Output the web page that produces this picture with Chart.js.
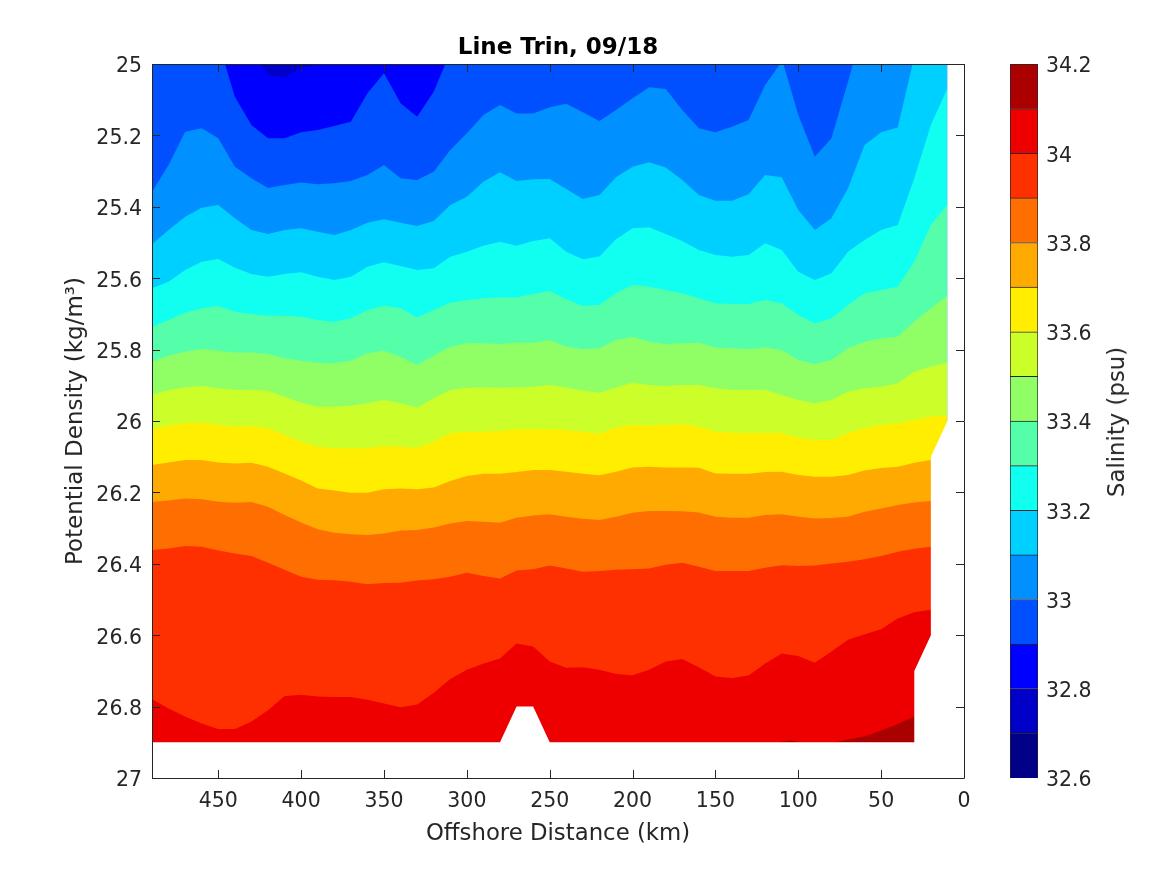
<!DOCTYPE html>
<html>
<head>
<meta charset="utf-8">
<title>Line Trin, 09/18</title>
<script src="https://cdn.jsdelivr.net/npm/chart.js@4"></script>
<style>
  html, body { margin: 0; padding: 0; background: #fff; }
  canvas { position: absolute; left: 0; top: 0; }
  #barLabel {
    position: absolute; left: 1116px; top: 422px; white-space: nowrap;
    transform: translate(-50%, -50%) rotate(-90deg);
    font: 22.8px "DejaVu Sans"; color: #262626;
  }
</style>
</head>
<body>
<canvas id="contourChart" width="1167" height="875"></canvas>
<canvas id="barChart" width="1167" height="875"></canvas>
<div id="barLabel">Salinity (psu)</div>
<script>
// Axis ticks
const distanceTicks = [450, 400, 350, 300, 250, 200, 150, 100, 50, 0];
const densityTicks = [25, 25.2, 25.4, 25.6, 25.8, 26, 26.2, 26.4, 26.6, 26.8, 27];
const salinityTicks = [32.6, 32.8, 33, 33.2, 33.4, 33.6, 33.8, 34, 34.2];

// Colour bands, one for each 0.1 psu
const salinityEdges = [32.6, 32.7, 32.8, 32.9, 33, 33.1, 33.2, 33.3, 33.4, 33.5, 33.6, 33.7, 33.8, 33.9, 34, 34.1, 34.2];
const bandColors = ['#000088', '#0000c8', '#0000ff', '#0050ff', '#0090ff', '#00d0ff', '#10fff0', '#55ffaa',
  '#90ff66', '#ccff2a', '#ffee00', '#ffaa00', '#ff6e00', '#ff3000', '#ee0000', '#aa0000'];

// Station distances (km)
const stations = [490, 480, 470, 460, 450, 440, 430, 420, 410, 400, 390, 380, 370, 360, 350, 340, 330, 320, 310, 300,
  290, 280, 270, 260, 250, 240, 230, 220, 210, 200, 190, 180, 170, 160, 150, 140, 130, 120, 110, 100,
  90, 80, 70, 60, 50, 40, 30, 20, 10];

// Density where salinity crosses each level. The upper ones only reach into the top of the plot here and there.
const s327X = [490, 10];
const s327Y = [25, 25];
const s328X = [490, 424, 420, 410, 400, 385, 10];
const s328Y = [25, 25, 25.031, 25.038, 25.01, 25, 25];
const s329X = [490, 446, 440, 430, 420, 410, 400, 390, 380, 370, 360, 350, 340, 330, 320, 313, 10];
const s329Y = [25, 25, 25.092, 25.171, 25.208, 25.208, 25.191, 25.185, 25.174, 25.162, 25.082, 25.026, 25.11, 25.148, 25.078, 25, 25];
const s330X = [490, 480, 470, 460, 450, 440, 430, 420, 410, 400, 390, 380, 370, 360, 350, 340, 330, 320, 310, 300,
  290, 280, 270, 260, 250, 240, 230, 220, 210, 200, 190, 180, 170, 160, 150, 140, 130, 120, 111, 109, 100, 90, 80, 70, 67, 10];
const s330Y = [25.358, 25.283, 25.19, 25.18, 25.208, 25.288, 25.32, 25.347, 25.339, 25.332, 25.337, 25.334, 25.328, 25.311, 25.283, 25.32, 25.325, 25.302, 25.241, 25.194,
  25.143, 25.115, 25.139, 25.139, 25.121, 25.111, 25.135, 25.16, 25.129, 25.096, 25.065, 25.07, 25.129, 25.18, 25.191, 25.176, 25.157, 25.059, 25, 25, 25.143, 25.26, 25.208, 25.05, 25, 25];
const s331X = [490, 480, 470, 460, 450, 440, 430, 420, 410, 400, 390, 380, 370, 360, 350, 340, 330, 320, 310, 300,
  290, 280, 270, 260, 250, 240, 230, 220, 210, 200, 190, 180, 170, 160, 150, 140, 130, 120, 110, 100, 90, 80, 70, 60, 50, 40, 31, 10];
const s331Y = [25.505, 25.465, 25.428, 25.403, 25.395, 25.432, 25.465, 25.476, 25.465, 25.46, 25.47, 25.479, 25.465, 25.445, 25.435, 25.445, 25.454, 25.44, 25.395, 25.372,
  25.33, 25.303, 25.328, 25.323, 25.322, 25.35, 25.378, 25.367, 25.317, 25.288, 25.275, 25.29, 25.325, 25.367, 25.383, 25.383, 25.365, 25.311, 25.317, 25.409, 25.465, 25.432, 25.348, 25.227, 25.191, 25.178, 25, 25];
const s332Y = [25.628, 25.61, 25.577, 25.554, 25.546, 25.571, 25.588, 25.596, 25.588, 25.583, 25.596, 25.605, 25.596, 25.568, 25.555, 25.566, 25.577, 25.572, 25.54, 25.526,
  25.509, 25.498, 25.509, 25.496, 25.488, 25.526, 25.547, 25.539, 25.491, 25.46, 25.457, 25.476, 25.496, 25.521, 25.535, 25.54, 25.535, 25.502, 25.521, 25.582,
  25.605, 25.586, 25.526, 25.493, 25.465, 25.451, 25.32, 25.171, 25.068];
const s333Y = [25.736, 25.717, 25.697, 25.684, 25.678, 25.694, 25.7, 25.705, 25.705, 25.708, 25.717, 25.723, 25.712, 25.689, 25.677, 25.684, 25.71, 25.689, 25.669, 25.661,
  25.656, 25.654, 25.654, 25.644, 25.636, 25.659, 25.678, 25.675, 25.642, 25.619, 25.624, 25.633, 25.642, 25.656, 25.67, 25.672, 25.672, 25.661, 25.67, 25.703,
  25.726, 25.712, 25.675, 25.642, 25.633, 25.624, 25.554, 25.451, 25.395];
const s334Y = [25.834, 25.817, 25.806, 25.798, 25.803, 25.808, 25.808, 25.812, 25.824, 25.831, 25.837, 25.838, 25.831, 25.81, 25.803, 25.82, 25.843, 25.817, 25.792, 25.782,
  25.782, 25.784, 25.781, 25.781, 25.773, 25.792, 25.799, 25.796, 25.773, 25.765, 25.778, 25.784, 25.782, 25.781, 25.794, 25.796, 25.799, 25.794, 25.801, 25.829,
  25.84, 25.829, 25.796, 25.778, 25.769, 25.764, 25.722, 25.684, 25.65];
const s335Y = [25.927, 25.913, 25.906, 25.902, 25.908, 25.913, 25.913, 25.915, 25.932, 25.949, 25.96, 25.96, 25.957, 25.95, 25.941, 25.95, 25.962, 25.936, 25.913, 25.907,
  25.906, 25.907, 25.906, 25.904, 25.899, 25.906, 25.915, 25.921, 25.906, 25.893, 25.899, 25.902, 25.899, 25.899, 25.908, 25.913, 25.913, 25.913, 25.927, 25.941,
  25.95, 25.941, 25.918, 25.908, 25.904, 25.894, 25.862, 25.848, 25.837];
const s336Y = [26.022, 26.013, 26.006, 26.005, 26.011, 26.016, 26.014, 26.02, 26.039, 26.058, 26.072, 26.076, 26.076, 26.076, 26.07, 26.072, 26.075, 26.058, 26.034, 26.03,
  26.03, 26.027, 26.023, 26.023, 26.023, 26.025, 26.03, 26.036, 26.018, 26.011, 26.014, 26.011, 26.009, 26.016, 26.03, 26.033, 26.034, 26.033, 26.034, 26.047,
  26.053, 26.053, 26.034, 26.02, 26.011, 26.006, 25.997, 25.988, 25.985];
const s337Y = [26.123, 26.116, 26.109, 26.109, 26.116, 26.119, 26.117, 26.128, 26.147, 26.167, 26.189, 26.195, 26.201, 26.201, 26.191, 26.189, 26.191, 26.186, 26.168, 26.154,
  26.148, 26.148, 26.143, 26.137, 26.137, 26.142, 26.148, 26.152, 26.142, 26.13, 26.128, 26.13, 26.13, 26.131, 26.147, 26.148, 26.148, 26.143, 26.142, 26.151,
  26.156, 26.156, 26.151, 26.139, 26.132, 26.128, 26.117, 26.109, 26.101];
const s338Y = [26.227, 26.223, 26.217, 26.219, 26.226, 26.229, 26.227, 26.24, 26.263, 26.284, 26.303, 26.313, 26.317, 26.319, 26.315, 26.307, 26.305, 26.298, 26.287, 26.28,
  26.282, 26.285, 26.271, 26.265, 26.261, 26.268, 26.274, 26.277, 26.268, 26.257, 26.252, 26.252, 26.253, 26.256, 26.268, 26.271, 26.271, 26.263, 26.261, 26.268,
  26.273, 26.272, 26.268, 26.254, 26.245, 26.235, 26.228, 26.224, 26.218];
const s339Y = [26.361, 26.357, 26.35, 26.352, 26.363, 26.371, 26.378, 26.397, 26.417, 26.436, 26.445, 26.446, 26.45, 26.457, 26.454, 26.453, 26.447, 26.443, 26.436, 26.425,
  26.434, 26.441, 26.419, 26.415, 26.405, 26.413, 26.422, 26.42, 26.417, 26.415, 26.413, 26.403, 26.397, 26.408, 26.42, 26.42, 26.42, 26.411, 26.404, 26.406,
  26.405, 26.399, 26.394, 26.387, 26.378, 26.366, 26.358, 26.352, 26.347];
const s340Y = [26.779, 26.805, 26.828, 26.847, 26.863, 26.863, 26.842, 26.81, 26.77, 26.767, 26.772, 26.773, 26.773, 26.781, 26.791, 26.802, 26.794, 26.761, 26.723, 26.697,
  26.679, 26.665, 26.623, 26.632, 26.674, 26.691, 26.69, 26.697, 26.709, 26.712, 26.697, 26.674, 26.667, 26.69, 26.716, 26.72, 26.713, 26.679, 26.651, 26.658,
  26.677, 26.646, 26.613, 26.597, 26.583, 26.553, 26.536, 26.529, 26.524];
const s341X = [490, 112, 105, 98, 78, 70, 60, 50, 40, 30, 10];
const s341Y = [26.9, 26.9, 26.895, 26.9, 26.9, 26.892, 26.884, 26.867, 26.849, 26.828, 26.8];

// Edge of the sampled section: bottom with its notch, then the stepped inshore side
const edgeX = [490, 280, 270, 260, 250, 30, 30, 20, 20, 10, 10, 0];
const edgeY = [26.9, 26.9, 26.8, 26.8, 26.9, 26.9, 26.7, 26.6, 26.1, 26, 25, 25];

const bottomDensity = 27;
const inkColor = '#262626';

function toPoints(xs, ys) {
  return xs.map((x, i) => ({ x: x, y: ys[i] }));
}

// The filler paints the first dataset last, so the saltiest level goes first
function areaDataset(xs, ys, color) {
  return {
    data: toPoints(xs, ys),
    backgroundColor: color,
    borderWidth: 0,
    pointRadius: 0,
    tension: 0,
    fill: { target: { value: bottomDensity } }
  };
}

const contourDatasets = [
  areaDataset(edgeX, edgeY, '#ffffff'),
  areaDataset(s341X, s341Y, bandColors[15]),
  areaDataset(stations, s340Y, bandColors[14]),
  areaDataset(stations, s339Y, bandColors[13]),
  areaDataset(stations, s338Y, bandColors[12]),
  areaDataset(stations, s337Y, bandColors[11]),
  areaDataset(stations, s336Y, bandColors[10]),
  areaDataset(stations, s335Y, bandColors[9]),
  areaDataset(stations, s334Y, bandColors[8]),
  areaDataset(stations, s333Y, bandColors[7]),
  areaDataset(stations, s332Y, bandColors[6]),
  areaDataset(s331X, s331Y, bandColors[5]),
  areaDataset(s330X, s330Y, bandColors[4]),
  areaDataset(s329X, s329Y, bandColors[3]),
  areaDataset(s328X, s328Y, bandColors[2]),
  areaDataset(s327X, s327Y, bandColors[1])
];

// Box with inward ticks on all four sides
const boxTicks = {
  id: 'boxTicks',
  afterDraw(chart) {
    const { ctx, chartArea: a, scales } = chart;
    const len = 8;
    ctx.save();
    ctx.strokeStyle = inkColor;
    ctx.lineWidth = 1;
    ctx.beginPath();
    scales.x.ticks.forEach(t => {
      const px = Math.round(scales.x.getPixelForValue(t.value)) + 0.5;
      ctx.moveTo(px, a.top); ctx.lineTo(px, a.top + len);
      ctx.moveTo(px, a.bottom); ctx.lineTo(px, a.bottom - len);
    });
    scales.y.ticks.forEach(t => {
      const py = Math.round(scales.y.getPixelForValue(t.value)) + 0.5;
      ctx.moveTo(a.left, py); ctx.lineTo(a.left + len, py);
      ctx.moveTo(a.right, py); ctx.lineTo(a.right - len, py);
    });
    ctx.rect(a.left + 0.5, a.top + 0.5, a.right - a.left, a.bottom - a.top);
    ctx.stroke();
    ctx.restore();
  }
};

// Canvas 'middle' sits a little high for DejaVu, so push the y labels down onto their ticks
const centerYLabels = {
  id: 'centerYLabels',
  afterLayout(chart) {
    chart.scales.y.getLabelItems().forEach(item => { item.textOffset += 3; });
  }
};

new Chart(document.getElementById('contourChart'), {
  type: 'line',
  data: { datasets: contourDatasets },
  plugins: [boxTicks, centerYLabels],
  options: {
    responsive: false,
    animation: false,
    devicePixelRatio: 1,
    layout: { padding: { right: 203 } },
    plugins: {
      legend: { display: false },
      tooltip: { enabled: false },
      title: {
        display: true,
        fullSize: false,
        text: 'Line Trin, 09/18',
        color: '#000',
        font: { family: 'DejaVu Sans', size: 23, weight: 'bold', lineHeight: 1 },
        padding: { top: 37, bottom: 4 }
      }
    },
    scales: {
      x: {
        type: 'linear',
        reverse: true,
        min: 0,
        max: 490,
        grid: { display: false },
        border: { display: false },
        afterBuildTicks: axis => { axis.ticks = distanceTicks.map(v => ({ value: v })); },
        afterFit: axis => { axis.height = 97; },
        ticks: {
          color: inkColor,
          padding: 3,
          maxRotation: 0,
          autoSkip: false,
          font: { family: 'DejaVu Sans', size: 20.5 },
          callback: v => String(v)
        },
        title: {
          display: true,
          text: 'Offshore Distance (km)',
          color: inkColor,
          font: { family: 'DejaVu Sans', size: 22.8 },
          padding: { top: 0, bottom: 27 }
        }
      },
      y: {
        type: 'linear',
        reverse: true,
        min: 25,
        max: 27,
        grid: { display: false },
        border: { display: false },
        afterBuildTicks: axis => { axis.ticks = densityTicks.map(v => ({ value: v })); },
        afterFit: axis => { axis.width = 152; },
        ticks: {
          color: inkColor,
          padding: 2,
          autoSkip: false,
          font: { family: 'DejaVu Sans', size: 20.5 },
          callback: v => String(v)
        },
        title: {
          display: true,
          text: 'Potential Density (kg/m³)',
          color: inkColor,
          font: { family: 'DejaVu Sans', size: 23 },
          padding: { top: 62, bottom: 0 }
        }
      }
    }
  }
});

// Colour bar: one floating bar per band
new Chart(document.getElementById('barChart'), {
  type: 'bar',
  data: {
    labels: ['salinity'],
    datasets: bandColors.map((color, i) => ({
      data: [[salinityEdges[i], salinityEdges[i + 1]]],
      backgroundColor: color,
      borderColor: inkColor,
      borderWidth: 1,
      barPercentage: 1,
      categoryPercentage: 1,
      grouped: false
    }))
  },
  plugins: [centerYLabels],
  options: {
    responsive: false,
    animation: false,
    devicePixelRatio: 1,
    layout: { padding: { left: 1010, top: 64, bottom: 97 } },
    plugins: { legend: { display: false }, tooltip: { enabled: false } },
    scales: {
      x: { display: false },
      y: {
        position: 'right',
        min: 32.6,
        max: 34.2,
        grid: { display: false },
        border: { display: false },
        afterBuildTicks: axis => { axis.ticks = salinityTicks.map(v => ({ value: v })); },
        afterFit: axis => { axis.width = 129; },
        ticks: {
          color: inkColor,
          padding: 0,
          autoSkip: false,
          font: { family: 'DejaVu Sans', size: 20.5 },
          callback: v => String(v)
        }
      }
    }
  }
});
</script>
</body>
</html>
